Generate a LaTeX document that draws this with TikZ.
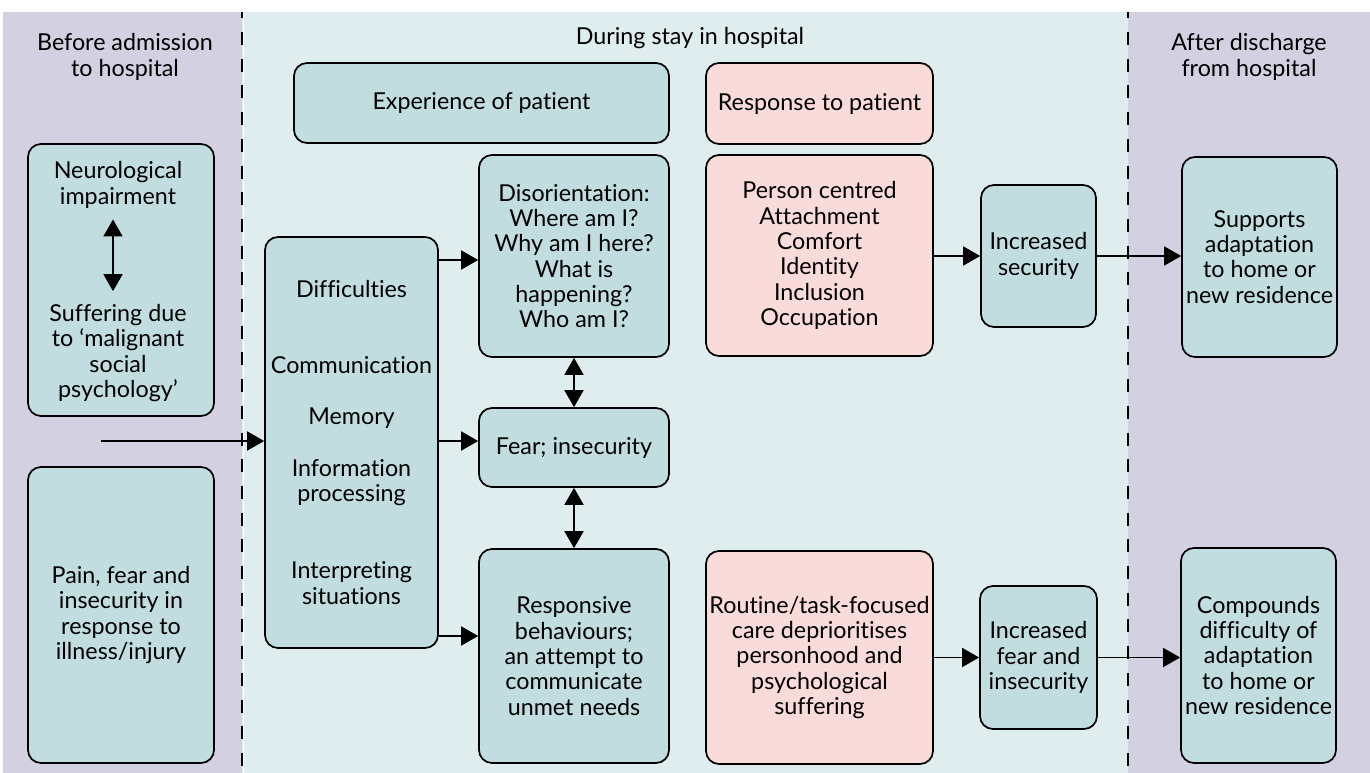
\documentclass[tikz,border=0pt]{standalone}
\usepackage{fontspec}
\setmainfont[Ligatures=NoCommon]{Lato}
\usetikzlibrary{arrows.meta,calc}
\definecolor{phase}{HTML}{D2D0E1}
\definecolor{stay}{HTML}{DFEDEE}
\definecolor{boxblue}{HTML}{C2DDE0}
\definecolor{boxpink}{HTML}{F9DBD9}
\begin{document}
\begin{tikzpicture}[x=1pt,y=-1pt,
  every node/.style={font=\fontsize{23.3}{25.3}\selectfont, text=black},
  box/.style={draw=black, line width=1.7pt, rounded corners=13pt, fill=boxblue, align=center, inner sep=1pt},
  pinkbox/.style={box, fill=boxpink},
  caption/.style={align=center, inner sep=0pt},
  arr/.style={line width=1.7pt, -{Triangle[length=17pt,width=19pt]}},
  dbl/.style={line width=1.7pt, {Triangle[length=17pt,width=19pt]}-{Triangle[length=17pt,width=19pt]}},
  divider/.style={line width=2pt, dash pattern=on 13pt off 13.7pt, dash phase=6.7pt}]
% page and phase bands
\useasboundingbox (0,0) rectangle (1370,773);
\fill[white] (0,0) rectangle (1370,773);
\fill[phase] (3,12) rectangle (242,773);
\fill[stay] (242,12) rectangle (1128,773);
\fill[phase] (1128,12) rectangle (1370,773);
\draw[white, line width=1pt] (243.6,12) -- (243.6,773);
\draw[divider] (242,12) -- (242,773);
\draw[divider, line width=1.5pt] (1128,12) -- (1128,773);

% phase headings
\node[caption] (hbefore) at (125,57) {Before admission\\to hospital};
\node[caption] (hduring) at (690,38) {During stay in hospital};
\node[caption] (hafter) at (1249,57) {After discharge\\from hospital};

% before admission
\node[box, minimum width=186pt, minimum height=272pt] (neuro) at (121,280) {};
\node[caption] (neuroA) at (118,185) {Neurological\\impairment};
\node[caption] (neuroB) at (118,353) {Suffering due\\to `malignant\\social\\psychology'};
\draw[dbl] ([xshift=-5pt,yshift=-11pt]neuroA.south) -- ([xshift=-5pt,yshift=13pt]neuroB.north);
\node[box, minimum width=186pt, minimum height=296pt] (pain) at (121,615)
  {Pain, fear and\\insecurity in\\response to\\illness/injury};

% experience of patient
\node[box, minimum width=173pt, minimum height=411pt] (diff) at (351.5,442.5)
  {Difficulties\\[50.7pt]Communication\\[25.7pt]Memory\\[26.7pt]Information\\processing\\[51.7pt]Interpreting\\situations};
\node[box, minimum width=375pt, minimum height=80pt] (exp) at (481.5,103) {Experience of patient};
\node[box, minimum width=190pt, minimum height=202pt] (dis) at (574,256)
  {Disorientation:\\Where am I?\\Why am I here?\\What is\\happening?\\Who am I?};
\node[box, minimum width=190pt, minimum height=79pt] (fear) at (574,447.5) {Fear; insecurity};
\node[box, minimum width=190pt, minimum height=214pt] (resp) at (574,656)
  {Responsive\\behaviours;\\an attempt to\\communicate\\unmet needs};

% response to patient
\node[pinkbox, minimum width=227pt, minimum height=81pt] (rhead) at (819.5,103.5) {Response to patient};
\node[pinkbox, minimum width=227pt, minimum height=201pt] (person) at (819.5,255.5)
  {Person centred\\Attachment\\Comfort\\Identity\\Inclusion\\Occupation};
\node[pinkbox, minimum width=227pt, minimum height=213pt] (routine) at (819.5,657.5)
  {Routine/task-focused\\care deprioritises\\personhood and\\psychological\\suffering};
\node[box, minimum width=115pt, minimum height=142pt] (incsec) at (1038.5,256) {Increased\\security};
\node[box, minimum width=117pt, minimum height=143pt] (incfear) at (1038.5,657.5) {Increased\\fear and\\insecurity};

% after discharge
\node[box, minimum width=155pt, minimum height=200pt] (supp) at (1259.5,257)
  {Supports\\adaptation\\to home or\\new residence};
\node[box, minimum width=155pt, minimum height=215pt] (comp) at (1258.5,655.5)
  {Compounds\\difficulty of\\adaptation\\to home or\\new residence};

% connectors
\coordinate (src) at (101,441);
\coordinate (rowA) at (0,260);
\coordinate (rowC) at (0,636);
\draw[arr] (src) -- (src -| diff.west);
\draw[arr] (diff.east |- rowA) -- (dis.west |- rowA);
\draw[arr] (diff.east |- src) -- (fear.west |- src);
\draw[arr] (diff.east |- rowC) -- (resp.west |- rowC);
\draw[dbl] (dis.south) -- (fear.north);
\draw[dbl] (fear.south) -- (resp.north);
\draw[arr] (person.east |- incsec.west) -- (incsec.west);
\draw[arr] (incsec.east) -- (incsec.east -| supp.west);
\draw[arr] (routine.east |- incfear.west) -- (incfear.west);
\draw[arr] (incfear.east) -- (incfear.east -| comp.west);
\end{tikzpicture}
\end{document}
